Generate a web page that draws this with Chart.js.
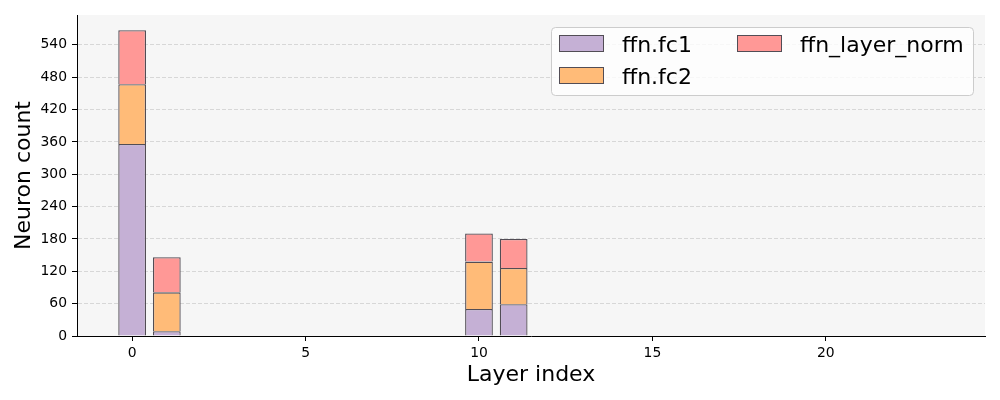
<!DOCTYPE html>
<html><head><meta charset="utf-8">
<script src="https://cdn.jsdelivr.net/npm/chart.js@4.4.1/dist/chart.umd.min.js"></script>
<style>html,body{margin:0;padding:0;background:#fff}#wrap{width:1000px;height:400px}</style>
</head><body><div id="wrap"><canvas id="c" width="1000" height="400"></canvas></div>
<script>
const layers = [0,1,2,3,4,5,6,7,8,9,10,11,12,13,14,15,16,17,18,19,20,21,22,23];
const fc1Counts  = [356,9,0,0,0,0,0,0,0,0,50,59,0,0,0,0,0,0,0,0,0,0,0,0];
const fc2Counts  = [111,72,0,0,0,0,0,0,0,0,88,67,0,0,0,0,0,0,0,0,0,0,0,0];
const normCounts = [100,65,0,0,0,0,0,0,0,0,52,54,0,0,0,0,0,0,0,0,0,0,0,0];
const seriesNames = ['ffn.fc1','ffn.fc2','ffn_layer_norm'];
const seriesColors = ['#c5b0d5','#ffbb78','#ff9896'];
const yTickStep = 60;
const xTickStep = 5;

const FONT = 'DejaVu Sans';
const barWidth = 0.8;
const lo = layers[0] - barWidth/2, hi = layers[layers.length-1] + barWidth/2;
const xPad = 0.05*(hi-lo);
const totals = layers.map((_,i)=>fc1Counts[i]+fc2Counts[i]+normCounts[i]);
const yMax = Math.max(...totals)*1.05;

const toPts = arr => layers.map((x,i)=>({x:x, y: arr[i]===0 ? null : arr[i]}));
const edge = '#524d55';

const bgPlugin = {
  id:'plotBg',
  beforeDraw(chart){
    const {ctx, chartArea:a} = chart;
    ctx.save(); ctx.fillStyle='#f6f6f6';
    ctx.fillRect(a.left,a.top,a.right-a.left,a.bottom-a.top);
    ctx.restore();
  }
};
const legendPlugin = {
  id:'mplLegend',
  afterDatasetsDraw(chart){
    const ctx = chart.ctx;
    ctx.save();
    ctx.beginPath();
    ctx.roundRect(551.5,27.5,422,68,4);
    ctx.fillStyle='rgba(255,255,255,0.8)'; ctx.fill();
    ctx.strokeStyle='#cccccc'; ctx.lineWidth=1; ctx.stroke();
    const items=[{ds:0,px:559,py:35},{ds:1,px:559,py:67},{ds:2,px:737,py:35}];
    ctx.font='22px "'+FONT+'"'; ctx.textBaseline='alphabetic'; ctx.textAlign='left';
    items.forEach(it=>{
      const d=chart.data.datasets[it.ds];
      ctx.fillStyle=d.backgroundColor; ctx.fillRect(it.px,it.py,44,16);
      ctx.strokeStyle=d.borderColor; ctx.lineWidth=1; ctx.strokeRect(it.px+0.5,it.py+0.5,44,16);
      ctx.fillStyle='#000'; ctx.fillText(d.label,it.px+63,it.py+17);
    });
    ctx.restore();
  }
};

new Chart(document.getElementById('c'), {
  type:'bar',
  data:{
    datasets:[fc1Counts,fc2Counts,normCounts].map((arr,k)=>({
      label:seriesNames[k], data:toPts(arr), backgroundColor:seriesColors[k],
      borderColor:edge, borderWidth:1.3, borderSkipped:'start',
      barPercentage:barWidth, categoryPercentage:1
    }))
  },
  options:{
    responsive:false, animation:false, devicePixelRatio:1,
    layout:{padding:{left:0,right:15,top:15,bottom:0}},
    plugins:{legend:{display:false}, tooltip:{enabled:false}},
    scales:{
      x:{type:'linear', stacked:true, offset:false, min:lo-xPad, max:hi+xPad,
        grid:{display:true, offset:false, drawOnChartArea:false, drawTicks:true, tickLength:5, tickColor:'#000', tickWidth:1},
        border:{display:true,color:'#000',width:1},
        ticks:{stepSize:xTickStep, includeBounds:false, color:'#000', padding:4, maxRotation:0, font:{family:FONT,size:13.9}},
        title:{display:true,text:'Layer index',color:'#000',font:{family:FONT,size:22},padding:{top:0,bottom:12}},
        afterFit:s=>{s.height=64;}
      },
      y:{stacked:true, min:0, max:yMax,
        grid:{color:c=>c.tick && c.tick.value===0?'rgba(0,0,0,0)':'rgba(0,0,0,0.16)', lineWidth:0.8, tickLength:5, tickColor:'#000', tickWidth:1},
        border:{display:true,color:'#000',width:1,dash:[4,2]},
        ticks:{stepSize:yTickStep, includeBounds:false, color:'#000', padding:5, font:{family:FONT,size:13.9}},
        title:{display:true,text:'Neuron count',color:'#000',font:{family:FONT,size:22},padding:{top:11,bottom:0}},
        afterFit:s=>{s.width=77;}
      }
    }
  },
  plugins:[bgPlugin, legendPlugin]
});
</script></body></html>
